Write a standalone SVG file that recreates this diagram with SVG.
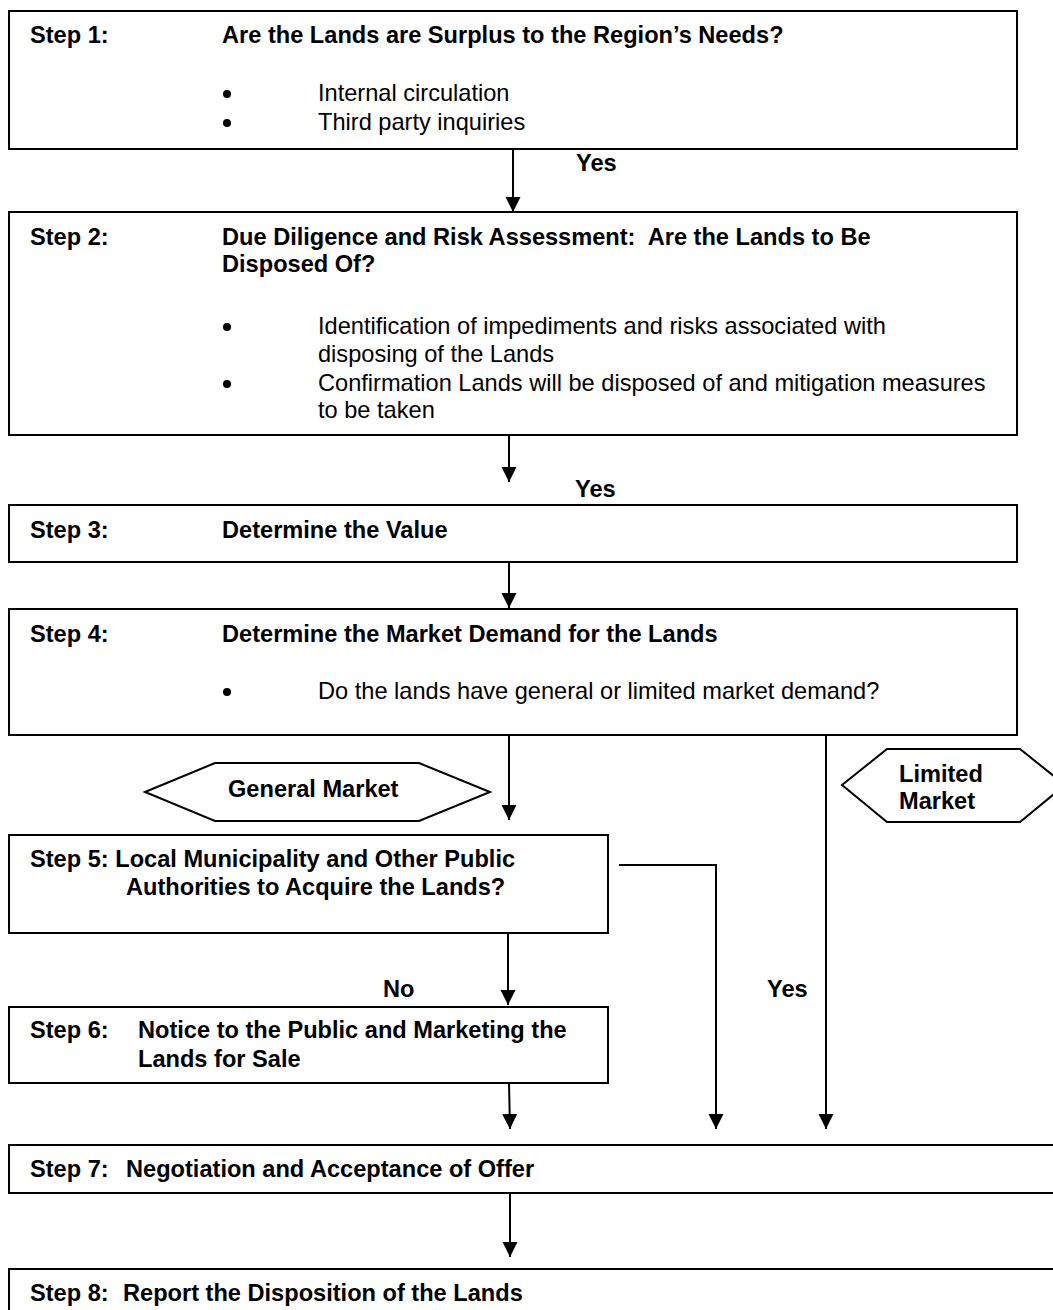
<svg xmlns="http://www.w3.org/2000/svg" width="1053" height="1310" viewBox="0 0 1053 1310">
<style>
.box{fill:#fff;stroke:#000;stroke-width:2}
.hex{fill:#fff;stroke:#000;stroke-width:2}
.b{font-family:"Liberation Sans",Arial,sans-serif;font-weight:bold;font-size:23.6px;fill:#000}
.r{font-family:"Liberation Sans",Arial,sans-serif;font-size:23.6px;fill:#000}
.ln{fill:none;stroke:#000;stroke-width:2}
</style>
<defs>
<marker id="ah" markerUnits="userSpaceOnUse" markerWidth="16" markerHeight="16" viewBox="0 0 16 16" refX="15" refY="8" orient="auto">
<path d="M0,0.5 L15,8 L0,15.5 Z" fill="#000"/>
</marker>
</defs>
<rect width="1053" height="1310" fill="#fff"/>

<g id="connectors">
<line class="ln" x1="513" y1="149" x2="513" y2="212" marker-end="url(#ah)"/>
<line class="ln" x1="509" y1="435" x2="509" y2="482" marker-end="url(#ah)"/>
<line class="ln" x1="509" y1="562" x2="509" y2="608" marker-end="url(#ah)"/>
<line class="ln" x1="509" y1="735" x2="509" y2="820" marker-end="url(#ah)"/>
<line class="ln" x1="508" y1="933" x2="508" y2="1005" marker-end="url(#ah)"/>
<line class="ln" x1="509" y1="1083" x2="510" y2="1129" marker-end="url(#ah)"/>
<polyline class="ln" points="619,865 716,865 716,1129" marker-end="url(#ah)"/>
<line class="ln" x1="826" y1="735" x2="826" y2="1129" marker-end="url(#ah)"/>
<line class="ln" x1="510" y1="1193" x2="510" y2="1257" marker-end="url(#ah)"/>
<text class="b" x="576" y="171">Yes</text>
<text class="b" x="575" y="497">Yes</text>
<text class="b" x="383" y="997">No</text>
<text class="b" x="767" y="997">Yes</text>
</g>

<g id="step1">
<rect class="box" x="9" y="11" width="1008" height="138"/>
<text class="b" x="30" y="43">Step 1:</text>
<text class="b" x="222" y="43">Are the Lands are Surplus to the Region’s Needs?</text>
<circle cx="227" cy="94" r="4"/>
<text class="r" x="318" y="101">Internal circulation</text>
<circle cx="227" cy="123" r="4"/>
<text class="r" x="318" y="130">Third party inquiries</text>
</g>

<g id="step2">
<rect class="box" x="9" y="212" width="1008" height="223"/>
<text class="b" x="30" y="245">Step 2:</text>
<text class="b" x="222" y="245" xml:space="preserve">Due Diligence and Risk Assessment:  Are the Lands to Be</text>
<text class="b" x="222" y="272">Disposed Of?</text>
<circle cx="227" cy="327" r="4"/>
<text class="r" x="318" y="334">Identification of impediments and risks associated with</text>
<text class="r" x="318" y="362">disposing of the Lands</text>
<circle cx="227" cy="384" r="4"/>
<text class="r" x="318" y="391">Confirmation Lands will be disposed of and mitigation measures</text>
<text class="r" x="318" y="418">to be taken</text>
</g>

<g id="step3">
<rect class="box" x="9" y="505" width="1008" height="57"/>
<text class="b" x="30" y="538">Step 3:</text>
<text class="b" x="222" y="538">Determine the Value</text>
</g>

<g id="step4">
<rect class="box" x="9" y="609" width="1008" height="126"/>
<text class="b" x="30" y="642">Step 4:</text>
<text class="b" x="222" y="642">Determine the Market Demand for the Lands</text>
<circle cx="227" cy="692" r="4"/>
<text class="r" x="318" y="699">Do the lands have general or limited market demand?</text>
</g>

<g id="general-market">
<polygon class="hex" points="145,792 215,763 419,763 490,792 419,821 215,821"/>
<text class="b" x="228" y="797">General Market</text>
</g>

<g id="limited-market">
<polygon class="hex" points="842,785 887,749 1020,749 1065,785 1020,822 887,822"/>
<text class="b" x="899" y="782">Limited</text>
<text class="b" x="899" y="809">Market</text>
</g>

<g id="step5">
<rect class="box" x="9" y="835" width="599" height="98"/>
<text class="b" x="30" y="867">Step 5: Local Municipality and Other Public</text>
<text class="b" x="126" y="895">Authorities to Acquire the Lands?</text>
</g>

<g id="step6">
<rect class="box" x="9" y="1007" width="599" height="76"/>
<text class="b" x="30" y="1038">Step 6:</text>
<text class="b" x="138" y="1038">Notice to the Public and Marketing the</text>
<text class="b" x="138" y="1067">Lands for Sale</text>
</g>

<g id="step7">
<rect class="box" x="9" y="1145" width="1060" height="48"/>
<text class="b" x="30" y="1177">Step 7:</text>
<text class="b" x="126" y="1177">Negotiation and Acceptance of Offer</text>
</g>

<g id="step8">
<rect class="box" x="9" y="1269" width="1060" height="60"/>
<text class="b" x="30" y="1301">Step 8:</text>
<text class="b" x="123" y="1301">Report the Disposition of the Lands</text>
</g>
</svg>
